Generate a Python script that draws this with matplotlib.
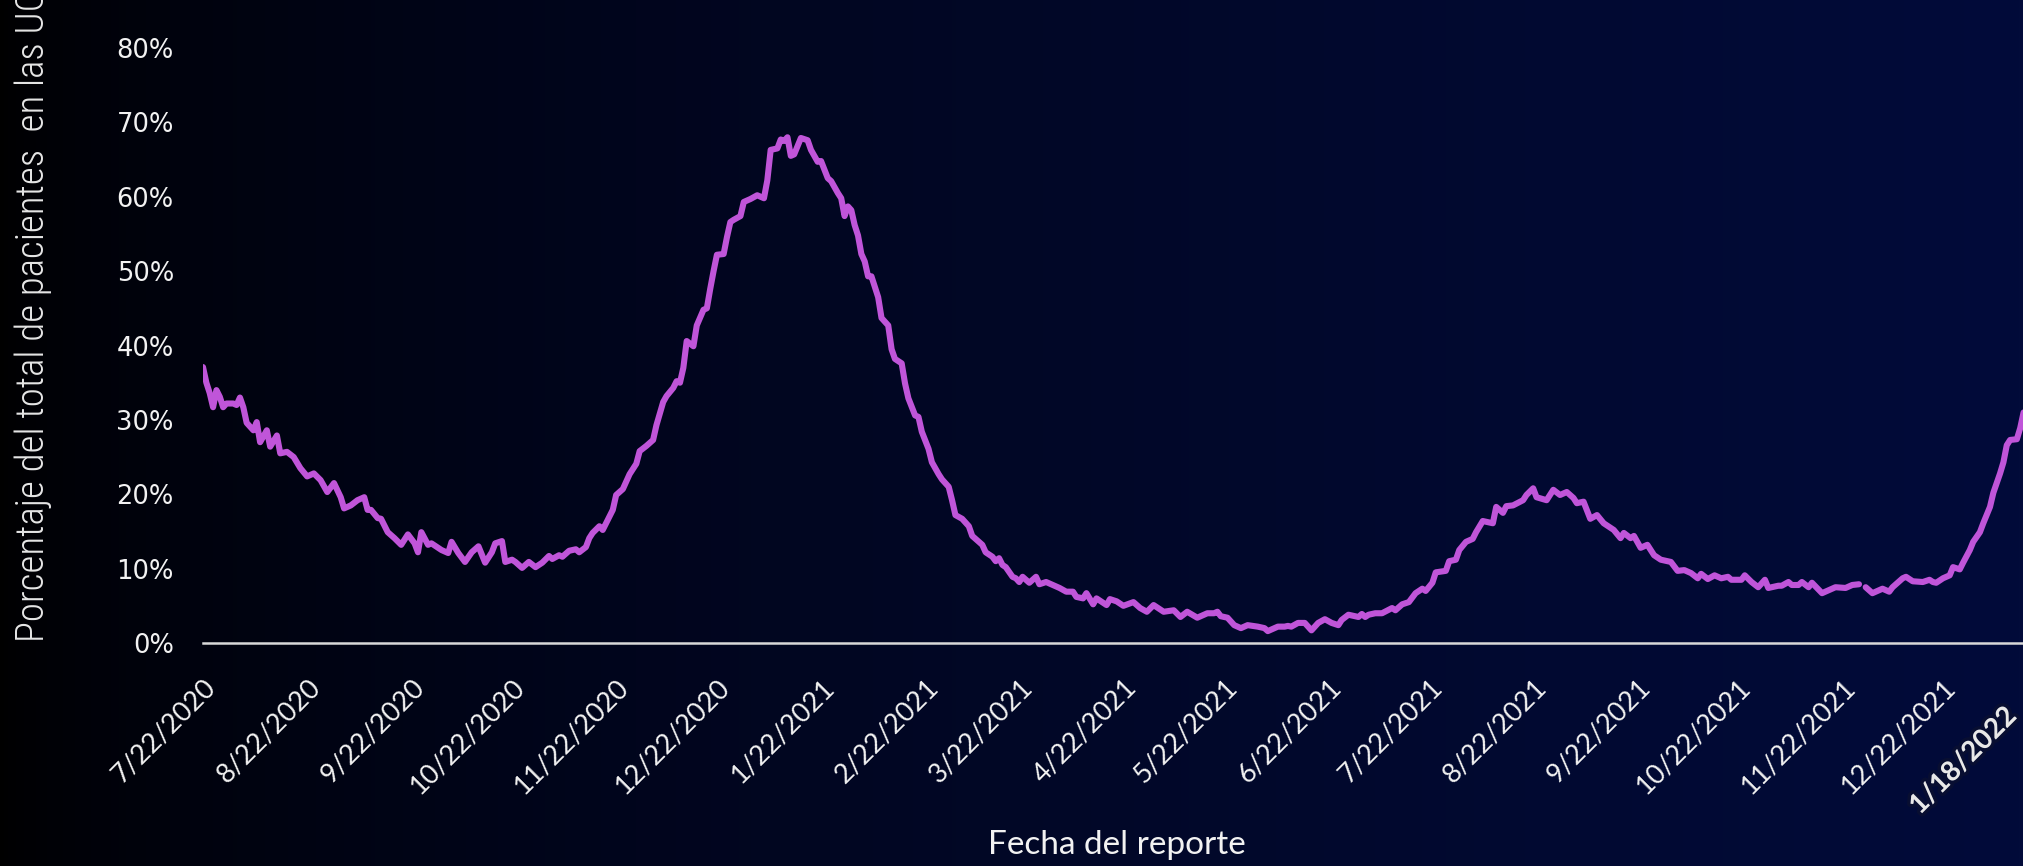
import numpy as np
import matplotlib
matplotlib.use("Agg")
import matplotlib.pyplot as plt
import matplotlib.patheffects as pe
import matplotlib.transforms as mtransforms
from datetime import date, timedelta

# report dates, stored as days after the first report (7/22/2020)
start = date(2020, 7, 22)
day = [0, 1, 2, 3, 4, 5, 6, 7, 9, 10, 11, 12, 13, 15, 16, 17, 19, 20, 22, 23, 25, 27, 29, 31, 33,
       35, 37, 39, 41, 42, 44, 46, 48, 49, 50, 52, 53, 55, 57, 59, 61, 63, 64, 65, 67, 68, 71, 73, 74,
       76, 78, 80, 82, 84, 86, 87, 89, 90, 92, 93, 95, 97, 99, 101, 103, 104, 106, 107, 109, 111, 112,
       114, 115, 116, 118, 119, 120, 122, 123, 125, 127, 129, 130, 132, 134, 135, 137, 138, 140, 141,
       142, 143, 144, 146, 147, 149, 150, 151, 152, 153, 155, 156, 157, 158, 160, 161, 163, 165, 167,
       168, 169, 171, 172, 173, 174, 175, 176, 178, 180, 181, 183, 184, 186, 187, 189, 190, 191, 192,
       193, 194, 195, 196, 197, 198, 199, 201, 202, 204, 205, 206, 208, 209, 210, 212, 213, 214, 216,
       217, 219, 220, 222, 223, 224, 226, 228, 229, 231, 232, 233, 235, 236, 237, 238, 239, 241, 242,
       243, 244, 246, 248, 249, 251, 253, 255, 257, 259, 260, 262, 263, 265, 266, 269, 270, 272, 274,
       277, 279, 281, 283, 286, 289, 291, 293, 296, 299, 301, 302, 303, 305, 307, 309, 311, 314, 316,
       317, 320, 322, 323, 324, 326, 328, 330, 332, 334, 336, 338, 339, 341, 344, 345, 346, 347, 349,
       351, 354, 355, 357, 359, 361, 363, 364, 366, 367, 370, 371, 373, 374, 376, 378, 379, 381, 384,
       385, 387, 388, 390, 393, 394, 396, 397, 400, 402, 404, 406, 408, 409, 411, 413, 415, 417, 420,
       422, 423, 425, 426, 428, 430, 432, 434, 437, 439, 441, 443, 445, 446, 448, 450, 452, 454, 455,
       458, 459, 461, 463, 465, 466, 469, 470, 472, 473, 475, 476, 478, 479, 482, 484, 486, 489, 491,
       493, 494, 495, 497, 500, 502, 503, 505, 506, 507, 509, 512, 514, 515, 516, 518, 520, 521, 523,
       524, 526, 527, 529, 530, 532, 533, 535, 536, 537, 538, 540, 541, 542]
pct = [37.1, 35.0, 33.6, 31.7, 34.0, 33.1, 31.7, 32.2, 32.2, 32.0, 33.0, 31.7, 29.6, 28.6, 29.7, 27.0,
       28.6, 26.4, 27.9, 25.5, 25.7, 25.0, 23.5, 22.4, 22.8, 21.9, 20.3, 21.5, 19.6, 18.1, 18.5, 19.2,
       19.6, 17.9, 17.9, 16.8, 16.7, 14.9, 14.1, 13.2, 14.6, 13.4, 12.2, 14.9, 13.2, 13.4, 12.5, 12.1,
       13.6, 12.1, 10.9, 12.2, 13.0, 10.8, 12.2, 13.4, 13.7, 10.9, 11.2, 10.9, 10.1, 10.9, 10.2, 10.8,
       11.7, 11.3, 11.8, 11.6, 12.4, 12.6, 12.2, 12.9, 14.1, 14.8, 15.7, 15.2, 16.1, 17.9, 19.9, 20.7,
       22.7, 24.1, 25.8, 26.5, 27.3, 29.3, 32.4, 33.2, 34.3, 35.2, 35.0, 37.0, 40.6, 39.9, 42.7, 44.8,
       45.0, 47.6, 50.0, 52.2, 52.3, 54.6, 56.6, 56.9, 57.4, 59.3, 59.7, 60.2, 59.8, 62.2, 66.3, 66.5,
       67.7, 67.5, 68.0, 65.5, 65.7, 67.9, 67.6, 66.3, 64.7, 64.8, 62.5, 62.1, 60.5, 59.8, 57.4, 58.7,
       58.2, 56.2, 54.8, 52.3, 51.3, 49.3, 49.3, 46.5, 43.7, 42.7, 39.5, 38.2, 37.6, 34.9, 32.9, 30.6,
       30.4, 28.4, 26.1, 24.3, 22.7, 22.0, 21.0, 19.2, 17.2, 16.7, 15.7, 14.4, 13.6, 13.2, 12.2, 11.6,
       11.0, 11.4, 10.5, 10.2, 8.9, 8.7, 8.2, 8.9, 8.1, 8.9, 7.9, 8.2, 7.8, 7.4, 6.9, 6.9, 6.2, 6.0,
       6.7, 5.2, 6.0, 5.1, 5.9, 5.6, 5.0, 5.5, 4.7, 4.2, 5.1, 4.2, 4.4, 3.5, 4.2, 3.4, 4.0, 4.0, 4.2,
       3.6, 3.4, 2.4, 2.0, 2.4, 2.2, 2.0, 1.6, 2.2, 2.2, 2.3, 2.2, 2.7, 2.7, 1.7, 2.7, 3.2, 2.7, 2.4,
       3.1, 3.8, 3.5, 3.9, 3.5, 3.8, 4.0, 4.0, 4.7, 4.4, 5.2, 5.5, 6.7, 7.3, 7.0, 8.1, 9.5, 9.7, 11.0,
       11.2, 12.5, 13.6, 14.0, 14.9, 16.4, 16.1, 18.3, 17.5, 18.4, 18.5, 19.2, 19.9, 20.8, 19.6, 19.2,
       20.6, 19.9, 20.3, 19.5, 18.8, 19.0, 16.7, 17.2, 16.1, 15.2, 14.1, 14.8, 14.1, 14.4, 12.8, 13.2,
       11.8, 11.2, 10.9, 9.7, 9.8, 9.4, 8.7, 9.3, 8.6, 9.1, 8.7, 8.9, 8.5, 8.5, 9.1, 8.2, 7.5, 8.5,
       7.4, 7.7, 7.7, 8.2, 7.8, 7.8, 8.2, 7.5, 8.1, 6.7, 7.1, 7.5, 7.4, 7.8, 7.9, np.nan, 7.5, 6.7,
       7.3, 6.9, 7.5, 8.3, 8.7, 8.9, 8.3, 8.2, 8.5, 8.2, 8.1, 8.7, 9.1, 10.2, 9.9, 10.8, 12.5, 13.6,
       14.9, 16.1, 18.3, 20.2, 22.8, 24.3, 26.6, 27.3, 27.4, 28.9, 31.0]

tick_labels = ["7/22/2020", "8/22/2020", "9/22/2020", "10/22/2020", "11/22/2020", "12/22/2020",
               "1/22/2021", "2/22/2021", "3/22/2021", "4/22/2021", "5/22/2021", "6/22/2021",
               "7/22/2021", "8/22/2021", "9/22/2021", "10/22/2021", "11/22/2021", "12/22/2021"]
y_ticks = [0, 10, 20, 30, 40, 50, 60, 70, 80]
y_labels = ["0%", "10%", "20%", "30%", "40%", "50%", "60%", "70%", "80%"]
last_label = "1/18/2022"

W, H = 2023, 866
fig = plt.figure(figsize=(W / 100, H / 100), dpi=100)

# background: dark horizontal gradient, black on the left to navy on the right
bg = fig.add_axes([0, 0, 1, 1], zorder=-10)
t = np.linspace(0, 1, 512) ** 0.6
end_col = np.array([2, 11, 58]) / 255
grad = np.outer(np.ones(4), t)[..., None] * end_col[None, None, :]
bg.imshow(grad, aspect="auto", extent=[0, 1, 0, 1])
bg.axis("off")

# plot area: 7/22/2020 at x=203 px, 3.359 px per day (runs a bit past the right edge);
# 0% at y=643, 80% at y=48
span_days = 545
ax = fig.add_axes([203 / W, (H - 643) / H, span_days * 3.359 / W, (643 - 48) / H])
ax.set_facecolor("none")

dates = [start + timedelta(days=d) for d in day]
ax.plot(dates, pct, color="#C055D9", lw=4.4, solid_joinstyle="round", solid_capstyle="round")

ax.set_xlim(start, start + timedelta(days=span_days))
ax.set_ylim(0, 80)

tick_dates = []
for lab in tick_labels:
    m, d, y = map(int, lab.split("/"))
    tick_dates.append(date(y, m, d))
ax.set_xticks(tick_dates)
ax.set_xticklabels(tick_labels, rotation=45, ha="right", va="center", rotation_mode="anchor",
                   family="Lato", fontsize=19.5, color="#F2F2F2")
ax.tick_params(axis="x", length=0, pad=29)
# nudge the slanted labels a little to the right, like the original
shift = mtransforms.ScaledTranslation(9 / 100, 0, fig.dpi_scale_trans)
for lab in ax.get_xticklabels():
    lab.set_transform(lab.get_transform() + shift)

ax.set_yticks(y_ticks)
ax.set_yticklabels(y_labels, family="DejaVu Sans", fontsize=18.5, color="#F2F2F2")
ax.tick_params(axis="y", length=0, pad=21)

for s in ["top", "right", "left"]:
    ax.spines[s].set_visible(False)
ax.spines["bottom"].set_color("#D9D9D9")
ax.spines["bottom"].set_linewidth(1.8)

fig.text(33 / W, 1 - 642 / H, "Porcentaje del total de pacientes  en las UCI", rotation=90,
         ha="center", va="bottom", family=["Roboto Condensed", "Liberation Sans Narrow", "Lato"],
         fontweight="light", fontsize=28, color="#E6E6E6")
fig.text(1117 / W, 1 - 845 / H, "Fecha del reporte", ha="center", va="center",
         family="Lato", fontsize=24, color="#F2F2F2")

# the last report date is pasted on top of the chart, bold with a soft dark halo
fig.text(2012 / W, 1 - 712 / H, last_label, rotation=45, ha="right", va="center",
         rotation_mode="anchor", family="Lato", fontweight="bold", fontsize=20, color="#E8E8E8",
         path_effects=[pe.withStroke(linewidth=5, foreground="#0a1030", alpha=0.8)])

fig.savefig("out.png", dpi=100)
